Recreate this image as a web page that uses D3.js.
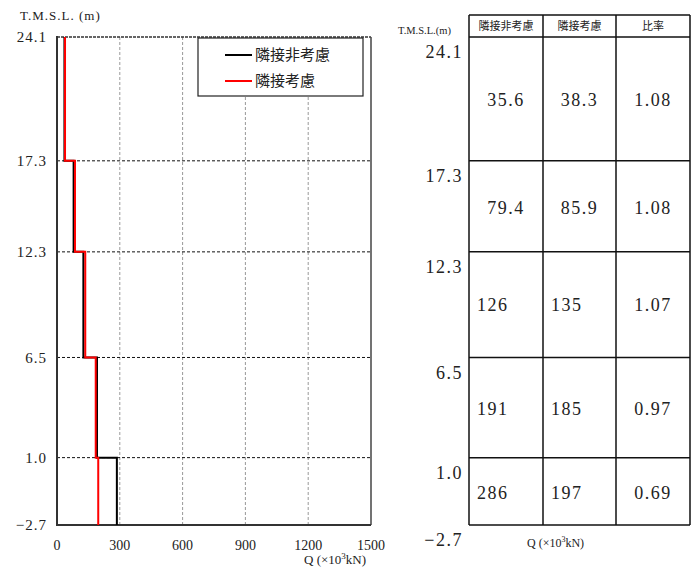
<!DOCTYPE html>
<html><head><meta charset="utf-8">
<script src="https://cdn.jsdelivr.net/npm/d3@7"></script>
<style>
body{margin:0;background:#fff;}
text{font-family:"Liberation Serif","Times New Roman","DejaVu Serif",serif;fill:#222;}
text.jp{font-family:"Noto Sans CJK JP","Noto Sans CJK SC",sans-serif;}
</style></head>
<body><svg id="c" width="691" height="572"></svg>
<script>
const levels = [24.1, 17.3, 12.3, 6.5, 1.0, -2.7];
const levelLabels = ["24.1", "17.3", "12.3", "6.5", "1.0", "\u22122.7"];
const seriesNames = ["隣接非考慮", "隣接考慮"];
const nonAdjacent = [35.6, 79.4, 126, 191, 286];
const adjacent = [38.3, 85.9, 135, 185, 197];
const ratio = ["1.08", "1.08", "1.07", "0.97", "0.69"];
const nonAdjLabels = ["35.6", "79.4", "126", "191", "286"];
const adjLabels = ["38.3", "85.9", "135", "185", "197"];
const xTicks = [0, 300, 600, 900, 1200, 1500];
const tableHeaders = ["隣接非考慮", "隣接考慮", "比率"];

const svg = d3.select("#c");
const x = d3.scaleLinear().domain([0, 1500]).range([57, 371]);
const y = d3.scaleLinear().domain([-2.7, 24.1]).range([525, 37]);

// vertical grid
svg.append("g").selectAll("line").data(xTicks.slice(1, -1)).join("line")
  .attr("x1", d => x(d)).attr("x2", d => x(d)).attr("y1", y(24.1)).attr("y2", y(-2.7))
  .attr("stroke", "#999").attr("stroke-width", 1).attr("stroke-dasharray", "3,2");
// horizontal level lines
svg.append("g").selectAll("line").data(levels.slice(1, -1)).join("line")
  .attr("x1", x(0)).attr("x2", x(1500)).attr("y1", d => y(d)).attr("y2", d => y(d))
  .attr("stroke", "#111").attr("stroke-width", 1).attr("stroke-dasharray", "3,2");
// frame
svg.append("line").attr("x1", x(0)).attr("x2", x(1500)).attr("y1", y(24.1)).attr("y2", y(24.1))
  .attr("stroke", "#333").attr("stroke-width", 1.5).attr("stroke-dasharray", "3,1");
svg.append("line").attr("x1", x(1500)).attr("x2", x(1500)).attr("y1", y(24.1)).attr("y2", y(-2.7))
  .attr("stroke", "#444").attr("stroke-width", 1.5);
svg.append("line").attr("x1", x(0)).attr("x2", x(0)).attr("y1", y(24.1) - 1).attr("y2", y(-2.7) + 1)
  .attr("stroke", "#333").attr("stroke-width", 2);
svg.append("line").attr("x1", x(0)).attr("x2", x(1500)).attr("y1", y(-2.7)).attr("y2", y(-2.7))
  .attr("stroke", "#333").attr("stroke-width", 2);

// step profiles
function stepPoints(vals) {
  const pts = [];
  vals.forEach((v, i) => { pts.push([v, levels[i]]); pts.push([v, levels[i + 1]]); });
  return pts;
}
const line = d3.line().x(d => x(d[0])).y(d => y(d[1]));
svg.append("path").attr("d", line(stepPoints(nonAdjacent))).attr("fill", "none")
  .attr("stroke", "#000").attr("stroke-width", 2);
svg.append("path").attr("d", line(stepPoints(adjacent))).attr("fill", "none")
  .attr("stroke", "#ff0000").attr("stroke-width", 2);

// y labels (left)
svg.append("g").selectAll("text").data(levels).join("text")
  .attr("x", 47).attr("y", d => y(d)).attr("dy", "0.35em").attr("text-anchor", "end")
  .attr("font-size", 15).attr("letter-spacing", 1)
  .text((d, i) => levelLabels[i]);
svg.append("text").attr("x", 20).attr("y", 20).attr("font-size", 13).attr("letter-spacing", 1).text("T.M.S.L. (m)");
// x labels
svg.append("g").selectAll("text").data(xTicks).join("text")
  .attr("x", d => x(d)).attr("y", 545).attr("dy", "0.35em").attr("text-anchor", "middle")
  .attr("font-size", 14).text(d => d);
const q1 = svg.append("text").attr("x", 304).attr("y", 564).attr("font-size", 13);
q1.append("tspan").text("Q (\u00d710");
q1.append("tspan").attr("font-size", 9).attr("dy", -5).text("3");
q1.append("tspan").attr("dy", 5).text("kN)");

// legend
svg.append("rect").attr("x", 198).attr("y", 38).attr("width", 165).attr("height", 58)
  .attr("fill", "#fff").attr("stroke", "#222").attr("stroke-width", 1.2);
const legColors = ["#000", "#ff0000"];
seriesNames.forEach((n, i) => {
  const ly = 55 + i * 26;
  svg.append("line").attr("x1", 225).attr("x2", 252).attr("y1", ly).attr("y2", ly)
    .attr("stroke", legColors[i]).attr("stroke-width", 2);
  svg.append("text").attr("class", "jp").attr("x", 255).attr("y", ly).attr("dy", "0.35em")
    .attr("font-size", 15).attr("fill", "#333").text(n);
});

// table
const colX = [469, 543, 616, 690];
const headTop = 15;
const tbl = svg.append("g");
tableHeaders.forEach((h, i) => {
  tbl.append("text").attr("class", "jp").attr("x", (colX[i] + colX[i + 1]) / 2).attr("y", 26)
    .attr("dy", "0.35em").attr("text-anchor", "middle").attr("font-size", 11).attr("fill", "#333").text(h);
});
tbl.selectAll("line.h").data([headTop].concat(levels.map(l => y(l)))).join("line")
  .attr("x1", colX[0]).attr("x2", colX[3]).attr("y1", d => d).attr("y2", d => d)
  .attr("stroke", "#111").attr("stroke-width", 1.5);
tbl.selectAll("line.v").data(colX).join("line")
  .attr("x1", d => d).attr("x2", d => d).attr("y1", headTop).attr("y2", y(-2.7))
  .attr("stroke", "#111").attr("stroke-width", 1.5);
tbl.selectAll("text.rl").data(levels).join("text")
  .attr("x", 463).attr("y", d => y(d) + 15).attr("dy", "0.35em").attr("text-anchor", "end")
  .attr("font-size", 18).attr("letter-spacing", 1.5).text((d, i) => levelLabels[i]);
svg.append("text").attr("x", 398).attr("y", 30).attr("dy", "0.35em").attr("font-size", 10.5)
  .attr("fill", "#333").text("T.M.S.L.(m)");
const rowY = [100, 208, 305, 409, 493];
const cols = [nonAdjLabels, adjLabels, ratio];
cols.forEach((vals, c) => {
  vals.forEach((v, r) => {
    const centered = r < 2 || c === 2;
    tbl.append("text")
      .attr("x", centered ? (colX[c] + colX[c + 1]) / 2 : colX[c] + 8)
      .attr("y", rowY[r]).attr("dy", "0.35em")
      .attr("text-anchor", centered ? "middle" : "start")
      .attr("font-size", 18).attr("letter-spacing", 1.5).text(v);
  });
});
const q2 = svg.append("text").attr("x", 527).attr("y", 547).attr("font-size", 12);
q2.append("tspan").text("Q (\u00d710");
q2.append("tspan").attr("font-size", 8).attr("dy", -5).text("3");
q2.append("tspan").attr("dy", 5).text("kN)");
</script></body></html>
